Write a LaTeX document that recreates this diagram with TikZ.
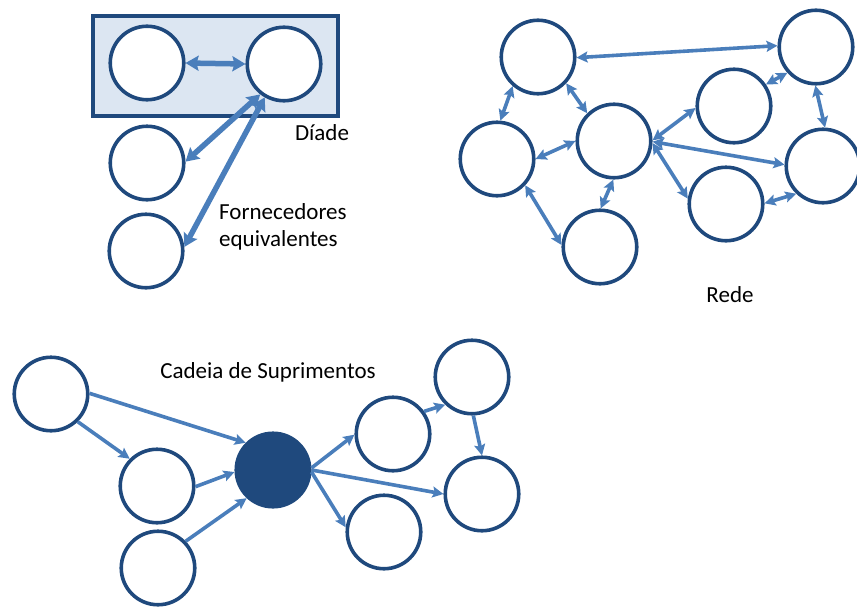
\documentclass[tikz,border=0pt]{standalone}
\usepackage{fontspec}
\setmainfont{Carlito}
\usetikzlibrary{arrows.meta}
\definecolor{ringblue}{RGB}{31,73,125}
\definecolor{linkblue}{RGB}{74,126,187}
\definecolor{boxfill}{RGB}{220,230,242}
\tikzset{
  actor/.style={circle, draw=ringblue, line width=3.6pt, fill=white, minimum size=73.5pt, inner sep=0pt},
  focal/.style={actor, fill=ringblue},
  link/.style={draw=linkblue, line width=3.6pt, -{Stealth[length=11pt,width=11pt,inset=2pt]}},
  duplex/.style={draw=linkblue, line width=3.6pt, {Stealth[length=11pt,width=11pt,inset=2pt]}-{Stealth[length=11pt,width=11pt,inset=2pt]}},
  heavy/.style={draw=linkblue, line width=5.5pt, {Stealth[length=13pt,width=15pt,inset=2pt]}-{Stealth[length=13pt,width=15pt,inset=2pt]}},
  caption/.style={font=\fontsize{23}{27}\selectfont, text=black, inner sep=0pt}
}
\begin{document}
\begin{tikzpicture}[x=1pt, y=-1pt]
\useasboundingbox (0,0) rectangle (857,608);

% --- Dyad ---
\node[draw=ringblue, line width=4.5pt, fill=boxfill, minimum width=245pt, minimum height=100pt, inner sep=0pt] (dyadbox) at (215.5,66) {};
\node[actor] (d1) at (147,63) {};
\node[actor] (d2) at (284,64) {};
\node[actor] (fa) at (147,163) {};
\node[actor] (fb) at (146,251) {};
\draw[heavy] (d1.east) -- (d2.west);
\draw[heavy] (d2.232) -- (fa.2);
\draw[heavy] (d2.240) -- (fb.6);
\node[caption] (tdyad) at (322,133) {Díade};
\node[caption, align=left, anchor=west] (tforn) at (219,227) {Fornecedores\\equivalentes};

% --- Network ---
\node[actor] (n1) at (538,57) {};
\node[actor] (n2) at (816,47) {};
\node[actor] (n3) at (497,159) {};
\node[actor] (n4) at (614,141) {};
\node[actor] (n5) at (734,106) {};
\node[actor] (n6) at (823,166) {};
\node[actor] (n7) at (726,204) {};
\node[actor] (n8) at (600,247) {};
\draw[duplex] (n1.-1) -- (n2.178);
\draw[duplex] (n1.-131) -- (n3.85);
\draw[duplex] (n1.-43) -- (n4.134);
\draw[duplex] (n3.0) -- (n4.180);
\draw[duplex] (n4.-91) -- (n8.89);
\draw[duplex] (n3.-43) -- (n8.177);
\draw[duplex] (n4.1) -- (n5.183);
\draw[duplex] (n4.-1) -- (n6.178);
\draw[duplex] (n4.-3) -- (n7.172);
\draw[duplex] (n5.34) -- (n2.-138);
\draw[duplex] (n2.-91) -- (n6.87);
\draw[duplex] (n7.1) -- (n6.-134);
\node[caption] (trede) at (730,295) {Rede};

% --- Supply chain ---
\node[actor] (s1) at (51,394) {};
\node[actor] (s2) at (157,486) {};
\node[actor] (s3) at (158,568) {};
\node[focal] (c) at (273,470) {};
\node[actor] (s4) at (393,434) {};
\node[actor] (s5) at (472,377) {};
\node[actor] (s6) at (482,494) {};
\node[actor] (s7) at (384,532) {};
\draw[link] (s1.1) -- (c.135);
\draw[link] (s1.-46) -- (s2.135);
\draw[link] (s2.-1) -- (c.183);
\draw[link] (s3.44) -- (c.227);
\draw[link] (c.3) -- (s4.181);
\draw[link] (c.0) -- (s6.180);
\draw[link] (c.-3) -- (s7.173);
\draw[link] (s4.36) -- (s5.-134);
\draw[link] (s5.-88) -- (s6.90);
\node[caption] (tchain) at (268,372) {Cadeia de Suprimentos};
\end{tikzpicture}
\end{document}
